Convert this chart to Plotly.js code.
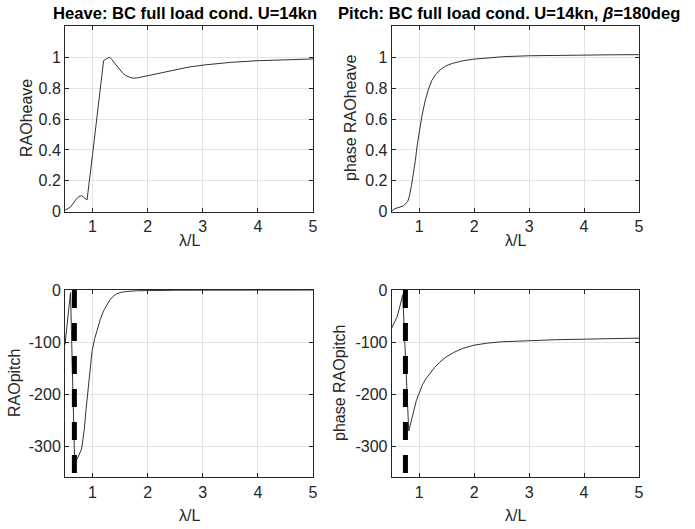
<!DOCTYPE html>
<html>
<head>
<meta charset="utf-8">
<script src="https://cdn.plot.ly/plotly-3.0.1.min.js"></script>
<style>html,body{margin:0;padding:0;background:#fff;}#chart{width:695px;height:529px;}</style>
</head>
<body>
<div id="chart"></div>
<script>
// ---- data ----
const heaveX = [0.5, 0.6, 0.7, 0.75, 0.8, 0.85, 0.9, 1.0, 1.13, 1.2, 1.25, 1.31, 1.35, 1.4, 1.45, 1.5, 1.55, 1.6, 1.65, 1.7, 1.75, 1.8, 1.9, 2.05, 2.3, 2.53, 2.75, 3.02, 3.5, 4.0, 4.5, 5.0];
const heaveY = [0.01, 0.03, 0.08, 0.097, 0.104, 0.088, 0.076, 0.37, 0.745, 0.978, 0.99, 1.0, 0.985, 0.963, 0.94, 0.916, 0.896, 0.882, 0.872, 0.867, 0.865, 0.866, 0.873, 0.885, 0.905, 0.922, 0.937, 0.95, 0.967, 0.978, 0.985, 0.989];

const phaseHeaveX = [0.5, 0.56, 0.65, 0.71, 0.79, 0.82, 0.86, 0.9, 0.93, 0.96, 1.0, 1.05, 1.11, 1.17, 1.23, 1.3, 1.38, 1.48, 1.6, 1.8, 2.0, 2.25, 2.53, 3.02, 3.5, 4.0, 4.5, 5.0];
const phaseHeaveY = [0.005, 0.02, 0.03, 0.037, 0.065, 0.097, 0.17, 0.25, 0.33, 0.42, 0.52, 0.62, 0.72, 0.795, 0.85, 0.888, 0.918, 0.943, 0.96, 0.978, 0.988, 0.997, 1.004, 1.01, 1.013, 1.015, 1.016, 1.017];

const pitchX = [0.5, 0.55, 0.6, 0.675, 0.72, 0.8, 0.85, 0.88, 0.92, 0.96, 0.99, 1.04, 1.08, 1.14, 1.2, 1.26, 1.32, 1.38, 1.44, 1.52, 1.6, 1.8, 2.0, 2.5, 3.0, 3.5, 4.0, 4.5, 5.0];
const pitchY = [-105, -55, -5, -330, -325, -306, -268, -232, -190, -145, -118, -93, -77, -57, -40, -28, -18, -12, -7, -4.5, -3, -1.5, -1, -0.5, -0.3, -0.2, -0.2, -0.1, -0.1];

const phasePitchX = [0.5, 0.6, 0.655, 0.7, 0.81, 0.85, 0.9, 0.95, 1.0, 1.06, 1.12, 1.2, 1.28, 1.38, 1.5, 1.63, 1.8, 2.0, 2.25, 2.5, 3.0, 3.5, 4.0, 4.5, 5.0];
const phasePitchY = [-73, -51, -29, -9, -271, -252, -233, -212, -197, -182, -171, -159, -149, -138, -128, -120, -112, -106, -102, -99.5, -97, -95.5, -94.5, -93.5, -92.5];

const pitchMarkX = [0.67, 0.67];
const phaseMarkX = [0.75, 0.75];
const markY = [0, -360];

const xTicks = [1, 2, 3, 4, 5];
const xTickText = ["1", "2", "3", "4", "5"];
const heaveTicks = [0, 0.2, 0.4, 0.6, 0.8, 1];
const heaveTickText = ["0", "0.2", "0.4", "0.6", "0.8", "1"];
const pitchTicks = [-300, -200, -100, 0];
const pitchTickText = ["-300", "-200", "-100", "0"];

const titles = ["Heave: BC full load cond. U=14kn", "Pitch: BC full load cond. U=14kn, <i>β</i>=180deg"];
const yLabels = ["RAOheave", "phase RAOheave", "RAOpitch", "phase RAOpitch"];
const xLabel = "λ/L";

// ---- layout helpers ----
const W = 695, H = 529;
const FONT = "Liberation Sans, Arial, Helvetica, sans-serif";
const AX = "#262626";
const lineStyle = {color: "#333333", width: 1};
const markStyle = {color: "#000000", width: 5, dash: "18px,15px"};

function xa(dom, anchor) {
  return {domain: dom, anchor: anchor, range: [0.5, 5], tickvals: xTicks, ticktext: xTickText,
    showgrid: true, gridcolor: "#e3e3e3", zeroline: false, showline: true, mirror: "ticks",
    linecolor: AX, linewidth: 1, ticks: "inside", ticklen: 4, tickcolor: AX,
    tickfont: {family: FONT, size: 16, color: AX}, fixedrange: true};
}
function ya(dom, anchor, range, tv, tt) {
  return {domain: dom, anchor: anchor, range: range, tickvals: tv, ticktext: tt,
    showgrid: true, gridcolor: "#e3e3e3", zeroline: false, showline: true, mirror: "ticks",
    linecolor: AX, linewidth: 1, ticks: "inside", ticklen: 4, tickcolor: AX,
    tickfont: {family: FONT, size: 16, color: AX}, fixedrange: true};
}
const xL = [65 / W, 313 / W], xR = [391.7 / W, 639 / W];
const yT = [1 - 211.7 / H, 1 - 26.4 / H], yB = [1 - 477.3 / H, 1 - 290 / H];

const traces = [
  {x: heaveX, y: heaveY, xaxis: "x", yaxis: "y", mode: "lines", line: lineStyle},
  {x: phaseHeaveX, y: phaseHeaveY, xaxis: "x2", yaxis: "y2", mode: "lines", line: lineStyle},
  {x: pitchX, y: pitchY, xaxis: "x3", yaxis: "y3", mode: "lines", line: lineStyle},
  {x: pitchMarkX, y: markY, xaxis: "x3", yaxis: "y3", mode: "lines", line: markStyle},
  {x: phasePitchX, y: phasePitchY, xaxis: "x4", yaxis: "y4", mode: "lines", line: lineStyle},
  {x: phaseMarkX, y: markY, xaxis: "x4", yaxis: "y4", mode: "lines", line: markStyle}
];

function ann(text, px, py, opts) {
  return Object.assign({text: text, xref: "paper", yref: "paper", x: px / W, y: 1 - py / H,
    xanchor: "center", yanchor: "middle", showarrow: false,
    font: {family: FONT, size: 16, color: AX}}, opts || {});
}
const titleFont = {family: FONT, size: 16.6, color: "#000", weight: "bold"};
const annotations = [
  ann(titles[0], 185, 13, {font: titleFont}),
  ann(titles[1], 509, 13, {font: titleFont}),
  ann(yLabels[0], 26, 118, {textangle: -90}),
  ann(yLabels[1], 350, 118, {textangle: -90}),
  ann(yLabels[2], 14, 383, {textangle: -90}),
  ann(yLabels[3], 339, 383, {textangle: -90}),
  ann(xLabel, 189, 240),
  ann(xLabel, 515, 240),
  ann(xLabel, 189, 515),
  ann(xLabel, 515, 515)
];

const layout = {
  width: W, height: H, margin: {l: 0, r: 0, t: 0, b: 0},
  paper_bgcolor: "#ffffff", plot_bgcolor: "#ffffff", showlegend: false,
  font: {family: FONT, color: AX},
  xaxis: xa(xL, "y"), yaxis: ya(yT, "x", [0, 1.2], heaveTicks, heaveTickText),
  xaxis2: xa(xR, "y2"), yaxis2: ya(yT, "x2", [0, 1.2], heaveTicks, heaveTickText),
  xaxis3: xa(xL, "y3"), yaxis3: ya(yB, "x3", [-360, 0], pitchTicks, pitchTickText),
  xaxis4: xa(xR, "y4"), yaxis4: ya(yB, "x4", [-360, 0], pitchTicks, pitchTickText),
  annotations: annotations
};

Plotly.newPlot("chart", traces, layout, {displayModeBar: false, staticPlot: true});
</script>
</body>
</html>
